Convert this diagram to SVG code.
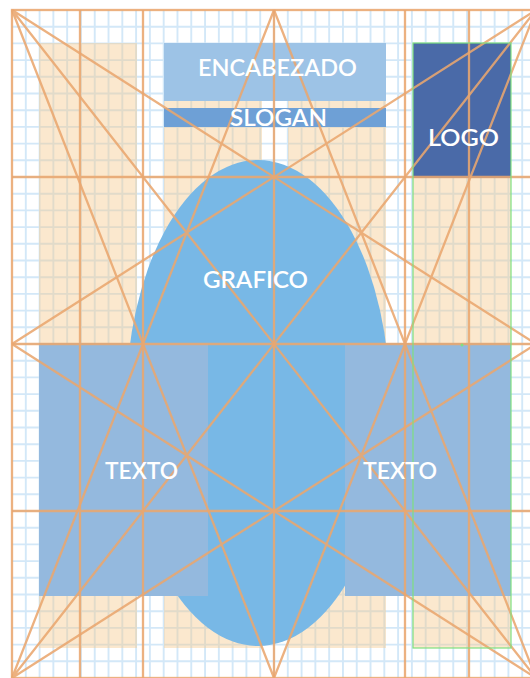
<svg xmlns="http://www.w3.org/2000/svg" width="530" height="678" viewBox="0 0 530 678">
<style>
.grid{fill:none;stroke:#D3E8F8;stroke-width:1.9}
.col{fill:#F5C88A;fill-opacity:0.42}
.guide{fill:none;stroke:#E9A66E;stroke-opacity:0.88;stroke-width:2.3}
.sel{fill:none;stroke:#7FE07F;stroke-width:1.2}
.lbl{font-family:"Lato","Open Sans","Liberation Sans",sans-serif;font-size:23px;font-weight:600;fill:#FFFFFF;text-anchor:middle}
</style>
<rect x="0" y="0" width="530" height="678" fill="#FFFFFF"/>
<g id="grid">
<path class="grid" d="M25.79 10V678M39.58 10V678M53.37 10V678M67.16 10V678M80.95 10V678M94.74 10V678M108.53 10V678M122.32 10V678M136.11 10V678M149.89 10V678M163.68 10V678M177.47 10V678M191.26 10V678M205.05 10V678M218.84 10V678M232.63 10V678M246.42 10V678M260.21 10V678M274 10V678M287.79 10V678M301.58 10V678M315.37 10V678M329.16 10V678M342.95 10V678M356.74 10V678M370.53 10V678M384.32 10V678M398.11 10V678M411.89 10V678M425.68 10V678M439.47 10V678M453.26 10V678M467.05 10V678M480.84 10V678M494.63 10V678M508.42 10V678M522.21 10V678"/>
<path class="grid" d="M12 26.7H536M12 43.4H536M12 60.1H536M12 76.8H536M12 93.5H536M12 110.2H536M12 126.9H536M12 143.6H536M12 160.3H536M12 177H536M12 193.7H536M12 210.4H536M12 227.1H536M12 243.8H536M12 260.5H536M12 277.2H536M12 293.9H536M12 310.6H536M12 327.3H536M12 344H536M12 360.7H536M12 377.4H536M12 394.1H536M12 410.8H536M12 427.5H536M12 444.2H536M12 460.9H536M12 477.6H536M12 494.3H536M12 511H536M12 527.7H536M12 544.4H536M12 561.1H536M12 577.8H536M12 594.5H536M12 611.2H536M12 627.9H536M12 644.6H536M12 661.3H536"/>
</g>
<g id="columns">
<rect class="col" x="39" y="43" width="98" height="605"/>
<rect class="col" x="164" y="43" width="98" height="605"/>
<rect class="col" x="288" y="43" width="98" height="605"/>
<rect class="col" x="413" y="43" width="98" height="605"/>
</g>
<g id="header">
<rect x="164" y="43" width="222" height="58" fill="#9DC3E6"/>
</g>
<g id="slogan">
<rect x="164" y="108" width="222" height="19" fill="#6EA0D6"/>
</g>
<g id="logo">
<rect x="413" y="43" width="98" height="135" fill="#4A6AA8"/>
</g>
<g id="grafico">
<ellipse cx="258" cy="403" rx="132" ry="243" fill="#78B8E6"/>
</g>
<g id="texto-left">
<rect x="39" y="343" width="169" height="253" fill="#94B9DE"/>
</g>
<g id="texto-right">
<rect x="345" y="343" width="166" height="253" fill="#94B9DE"/>
</g>
<g id="connectors">
<rect class="guide" x="12" y="10" width="524" height="668"/>
<path class="guide" d="M80 10V678M143 10V678M274 10V678M405 10V678M469 10V678M12 177H536M12 344H536M12 511H536"/>
<path class="guide" d="M12 10L536 678M536 10L12 678M12 10L274 678M12 10L536 344M536 10L274 678M536 10L12 344M12 678L274 10M12 678L536 344M536 678L274 10M536 678L12 344"/>
</g>
<g id="selection">
<rect class="sel" x="413" y="43" width="98" height="605"/>
<circle cx="462" cy="345" r="1.5" fill="#7FE07F"/>
</g>
<g id="labels">
<text class="lbl" x="277.5" y="76" textLength="159" lengthAdjust="spacingAndGlyphs">ENCABEZADO</text>
<text class="lbl" x="278.5" y="126" textLength="97" lengthAdjust="spacingAndGlyphs">SLOGAN</text>
<text class="lbl" x="463.5" y="146" textLength="71" lengthAdjust="spacingAndGlyphs">LOGO</text>
<text class="lbl" x="255.5" y="288" textLength="105" lengthAdjust="spacingAndGlyphs">GRAFICO</text>
<text class="lbl" x="141.5" y="479" textLength="73" lengthAdjust="spacingAndGlyphs">TEXTO</text>
<text class="lbl" x="400" y="479" textLength="74" lengthAdjust="spacingAndGlyphs">TEXTO</text>
</g>
</svg>
